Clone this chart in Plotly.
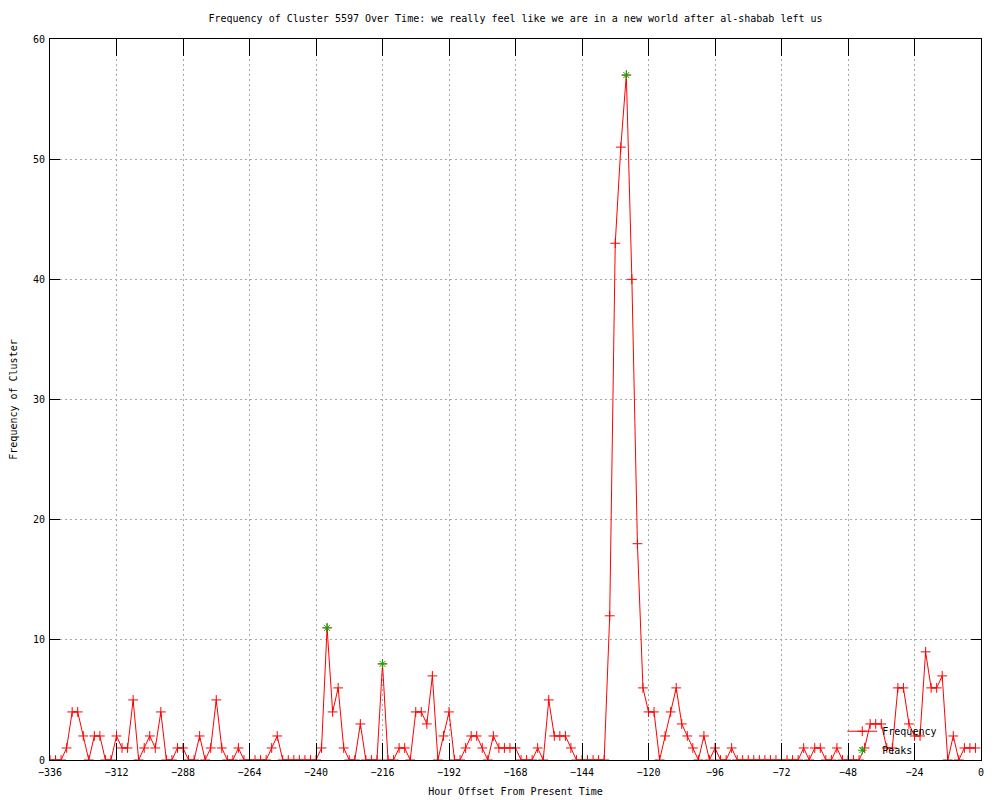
import plotly.graph_objects as go

# Hour offsets (every 2 hours from -336 to -2)
hours = list(range(-336, 0, 2))

# Frequency values, one row per 24-hour block
frequency = [
    0, 0, 0, 1, 4, 4, 2, 0, 2, 2, 0, 0,      # -336 .. -314
    2, 1, 1, 5, 0, 1, 2, 1, 4, 0, 0, 1,      # -312 .. -290
    1, 0, 0, 2, 0, 1, 5, 1, 0, 0, 1, 0,      # -288 .. -266
    0, 0, 0, 0, 1, 2, 0, 0, 0, 0, 0, 0,      # -264 .. -242
    0, 1, 11, 4, 6, 1, 0, 0, 3, 0, 0, 0,     # -240 .. -218
    8, 0, 0, 1, 1, 0, 4, 4, 3, 7, 0, 2,      # -216 .. -194
    4, 0, 0, 1, 2, 2, 1, 0, 2, 1, 1, 1,      # -192 .. -170
    1, 0, 0, 0, 1, 0, 5, 2, 2, 2, 1, 0,      # -168 .. -146
    0, 0, 0, 0, 0, 12, 43, 51, 57, 40, 18, 6,  # -144 .. -122
    4, 4, 0, 2, 4, 6, 3, 2, 1, 0, 2, 0,      # -120 .. -98
    1, 0, 0, 1, 0, 0, 0, 0, 0, 0, 0, 0,      # -96 .. -74
    0, 0, 0, 0, 1, 0, 1, 1, 0, 0, 1, 0,      # -72 .. -50
    0, 0, 0, 1, 3, 3, 3, 1, 1, 6, 6, 3,      # -48 .. -26
    2, 2, 9, 6, 6, 7, 0, 2, 0, 1, 1, 1,      # -24 .. -2
]

peak_hours = [-236, -216, -128]
peak_values = [11, 8, 57]

x_ticks = [-336, -312, -288, -264, -240, -216, -192, -168, -144, -120, -96, -72, -48, -24, 0]
y_ticks = [0, 10, 20, 30, 40, 50, 60]

title_text = "Frequency of Cluster 5597 Over Time: we really feel like we are in a new world after al-shabab left us"
x_label = "Hour Offset From Present Time"
y_label = "Frequency of Cluster"

FONT = "DejaVu Sans Mono, Liberation Mono, monospace"
FS = 10

fig = go.Figure()
fig.add_trace(go.Scatter(
    x=hours, y=frequency, name="Frequency",
    mode="lines+markers",
    line=dict(color="#ff0000", width=1),
    marker=dict(symbol="cross-thin-open", size=7, color="#ff0000",
                line=dict(color="#ff0000", width=1)),
))
fig.add_trace(go.Scatter(
    x=peak_hours, y=peak_values, name="Peaks",
    mode="markers",
    marker=dict(symbol="asterisk-open", size=7, color="#00b000",
                line=dict(color="#00b000", width=1)),
))

axis_common = dict(
    showline=True, linecolor="black", linewidth=1, mirror="ticks",
    ticks="inside", tickcolor="black", tickwidth=1,
    showgrid=True, gridcolor="#a8a8a8", griddash="2px,3px", gridwidth=1,
    zeroline=False, automargin=False,
    tickfont=dict(family=FONT, size=FS, color="black"),
)

fig.update_xaxes(
    range=[-336, 0], tickmode="array", tickvals=x_ticks,
    ticklen=17, ticklabelstandoff=3,
    title=dict(text=x_label, font=dict(family=FONT, size=FS, color="black"), standoff=10),
    **axis_common,
)
fig.update_yaxes(
    range=[0, 60], tickmode="array", tickvals=y_ticks,
    ticklen=10, ticklabelstandoff=2,
    title=dict(text=y_label, font=dict(family=FONT, size=FS, color="black"), standoff=14),
    **axis_common,
)

# The page body adds an 8px margin, so the figure is sized to fit the window.
fig.update_layout(
    width=992, height=792,
    margin=dict(l=42, r=19, t=31, b=40, pad=0),
    paper_bgcolor="white", plot_bgcolor="white",
    title=dict(text=title_text, x=0.5, xref="paper", y=1 - 10 / 792, yanchor="middle",
               font=dict(family=FONT, size=FS, color="black")),
    font=dict(family=FONT, size=FS, color="black"),
    legend=dict(x=0.851, y=0.06, xanchor="left", yanchor="top",
                bgcolor="rgba(0,0,0,0)", borderwidth=0,
                font=dict(family=FONT, size=FS, color="black"),
                tracegroupgap=0, itemwidth=30),
    showlegend=True,
)

fig.write_html("out.html")
